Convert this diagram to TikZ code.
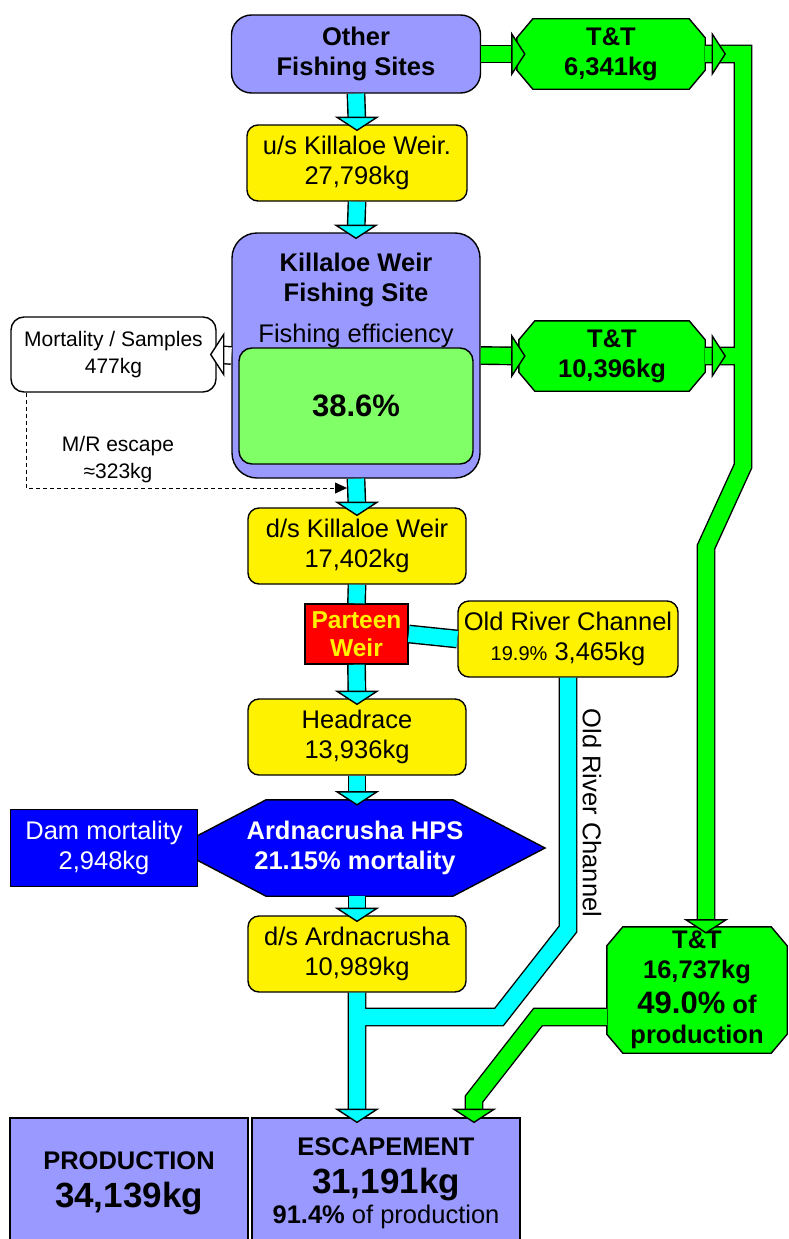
\documentclass[tikz,border=0pt]{standalone}
\usepackage{fontspec}
\setmainfont{Liberation Sans}
\usetikzlibrary{arrows.meta,backgrounds}

\definecolor{lilac}{RGB}{153,153,255}
\definecolor{fishgreen}{RGB}{0,255,0}
\definecolor{effgreen}{RGB}{128,255,102}
\definecolor{aqua}{RGB}{0,255,255}
\definecolor{weirred}{RGB}{255,0,0}
\definecolor{hpsblue}{RGB}{0,0,255}

\newcommand{\mainsz}{\fontsize{25.5}{30}\selectfont}
\newcommand{\smallsz}{\fontsize{21}{27}\selectfont}
\newcommand{\tinysz}{\fontsize{20}{27}\selectfont}
\newcommand{\bigsz}{\fontsize{31}{34}\selectfont}
\newcommand{\hugesz}{\fontsize{35}{38}\selectfont}

\tikzset{
  box/.style={draw=black, line width=1.4pt, inner sep=0pt, align=center, font=\mainsz},
  site/.style={box, fill=lilac, font=\mainsz\bfseries},
  stage/.style={box, fill=yellow, rounded corners=11pt, minimum width=218pt, minimum height=76pt},
  tandt/.style={inner sep=0pt, align=center, font=\mainsz\bfseries},
  ttline/.style={draw=black, line width=1.4pt, fill=fishgreen},
  hpsline/.style={draw=black, line width=1.4pt, fill=hpsblue},
  cpipe/.style={draw=black, line width=1.4pt, double=aqua, double distance=16pt},
  gpipe/.style={draw=black, line width=1.4pt, double=fishgreen, double distance=16pt},
  wpipe/.style={draw=black, line width=1.4pt, double=white, double distance=16pt},
  pics/head/.style={code={
    \filldraw[draw=black, line width=1.4pt, fill=#1] (-20pt,13pt) -- (0pt,0pt) -- (20pt,13pt) -- cycle;}},
}

\begin{document}
\begin{tikzpicture}[x=1pt, y=-1pt]
\useasboundingbox (0,0) rectangle (789,1239);

% main column
\node[site, rounded corners=20pt, minimum width=249pt, minimum height=78pt] (other) at (356,54) {Other\\Fishing Sites};
\node[stage, minimum width=220pt] (us) at (357,163) {u/s Killaloe Weir.\\27,798kg};
\node[site, rounded corners=25pt, minimum width=248pt, minimum height=245pt] (kil) at (356,355.5) {};
\node[font=\mainsz\bfseries, align=center] (kiltitle) at (356,280) {Killaloe Weir\\Fishing Site};
\node[font=\mainsz] (efflabel) at (356,336) {Fishing efficiency};
\node[box, fill=effgreen, rounded corners=13pt, minimum width=234pt, minimum height=116pt, font=\bigsz\bfseries] (eff) at (356,406) {38.6\%};
\node[box, fill=white, rounded corners=13pt, minimum width=205pt, minimum height=75pt, font=\smallsz] (mort) at (113.5,354.5) {Mortality / Samples\\477kg};
\node[font=\smallsz, align=center] (mrlabel) at (118,460) {M/R escape\\≈323kg};
\node[stage] (dsk) at (357,546) {d/s Killaloe Weir\\17,402kg};
\node[box, fill=weirred, text=yellow, font=\fontsize{24.5}{28}\selectfont\bfseries, minimum width=103pt, minimum height=60pt] (parteen) at (356.5,634) {Parteen\\Weir};
\node[stage, minimum width=220pt] (orc) at (568,639) {Old River Channel\\{\tinysz 19.9\%}\ 3,465kg};
\node[stage] (headrace) at (357,737) {Headrace\\13,936kg};
\node[tandt, text=white, minimum height=96pt] (ard) at (355,848) {Ardnacrusha HPS\\21.15\% mortality};
\node[box, fill=hpsblue, text=white, minimum width=187pt, minimum height=77pt] (dam) at (104,848) {Dam mortality\\2,948kg};
\node[stage] (dsa) at (357,954) {d/s Ardnacrusha\\10,989kg};
\node[font=\mainsz, rotate=-90] (orclabel) at (592,813) {Old River Channel};

% trap and transport
\node[tandt, minimum width=188pt, minimum height=70pt] (tt1) at (611,54) {T\&T\\6,341kg};
\node[tandt, minimum width=186pt, minimum height=70pt] (tt2) at (612,356) {T\&T\\10,396kg};
\node[tandt, minimum width=180pt, minimum height=126pt] (tt3) at (697,990) {T\&T\\16,737kg\\[5pt]{\bigsz 49.0\%} of\\production};

% totals
\node[site, minimum width=238pt, minimum height=130pt] (prod) at (129,1183) {PRODUCTION\\[8pt]{\hugesz 34,139kg}};
\node[site, minimum width=268pt, minimum height=130pt] (esc) at (386,1183) {ESCAPEMENT\\[8pt]{\hugesz 31,191kg}\\91.4\% {\mdseries of production}};

\coordinate (orcbend) at (568,929);
\coordinate (orcjoin) at (499,1017);
\coordinate (gtop) at (743,54);
\coordinate (gknee) at (743,466);
\coordinate (gbend) at (706,547);
\coordinate (gesc1) at (538,1017);
\coordinate (gesc2) at (474,1099);
\coordinate (mrend) at (347,488);

% river flow
\draw[cpipe] (other.south) -- (us.north);
\draw[cpipe] (us.south) -- (kil.north);
\draw[cpipe] (kil.south) -- (dsk.north);
\draw[cpipe] (dsk.south) -- (parteen.north) (parteen.south) -- (headrace.north) (parteen.east) -- (orc.west);
\draw[cpipe] (headrace.south) -- (headrace.south |- ard.north);
\draw[cpipe] (dsa.north |- ard.south) -- (dsa.north);
\draw[cpipe] (dsa.south) -- (dsa.south |- esc.north) (orc.south) -- (orcbend) -- (orcjoin) -- (dsa.south |- orcjoin);

% catches
\draw[gpipe] (other.east) -- (tt1.west);
\draw[gpipe] (kil.east) -- (tt2.west);
\draw[gpipe] (tt1.east) -- (gtop) -- (gknee) -- (gbend) -- (gbend |- tt3.north) (tt2.east) -- (tt2.east -| gtop);
\draw[gpipe] ([yshift=-27pt]tt3.west) -- (gesc1) -- (gesc2) -- (gesc2 |- esc.north);
\draw[wpipe] (kil.west) -- (mort.east);
\draw[line width=0.8pt, dash pattern=on 4pt off 3pt, -{Triangle[length=12pt,width=11pt]}] ([xshift=16pt]mort.south west) |- (mrend);

% arrow heads
\pic at ([yshift=-6pt]us.north) {head=aqua};
\pic at ([yshift=-6pt]kil.north) {head=aqua};
\pic at ([yshift=-8pt]dsk.north) {head=aqua};
\pic at ([yshift=-6pt]headrace.north) {head=aqua};
\pic at ([yshift=-5pt]headrace.south |- ard.north) {head=aqua};
\pic at ([yshift=-6pt]dsa.north) {head=aqua};
\pic at ([yshift=-5pt]dsa.south |- esc.north) {head=aqua};
\pic[rotate=90] at ([xshift=8pt]tt1.west) {head=fishgreen};
\pic[rotate=90] at ([xshift=6pt]tt2.west) {head=fishgreen};
\pic[rotate=90] at ([xshift=20pt]tt1.east) {head=fishgreen};
\pic[rotate=90] at ([xshift=20pt]tt2.east) {head=fishgreen};
\pic at ([yshift=-6pt]gbend |- tt3.north) {head=fishgreen};
\pic at ([yshift=-5pt]gesc2 |- esc.north) {head=fishgreen};
\pic[rotate=-90] at ([xshift=-6pt]mort.east) {head=white};

% shapes behind the texts
\begin{scope}[on background layer]
\foreach \tt in {tt1,tt2,tt3}
  \filldraw[ttline] ([xshift=16pt]\tt.north west) -- ([xshift=-16pt]\tt.north east)
    -- ([yshift=-19pt]\tt.north east) -- ([yshift=19pt]\tt.south east)
    -- ([xshift=-16pt]\tt.south east) -- ([xshift=16pt]\tt.south west)
    -- ([yshift=19pt]\tt.south west) -- ([yshift=-19pt]\tt.north west) -- cycle;
\filldraw[hpsline] ([xshift=-91pt]headrace.south |- ard.north) -- ([xshift=96pt]headrace.south |- ard.north)
  -- ([xshift=188pt]headrace.south |- ard.center) -- ([xshift=96pt]headrace.south |- ard.south)
  -- ([xshift=-91pt]headrace.south |- ard.south) -- ([xshift=-183pt]headrace.south |- ard.center) -- cycle;
\end{scope}
\end{tikzpicture}
\end{document}
